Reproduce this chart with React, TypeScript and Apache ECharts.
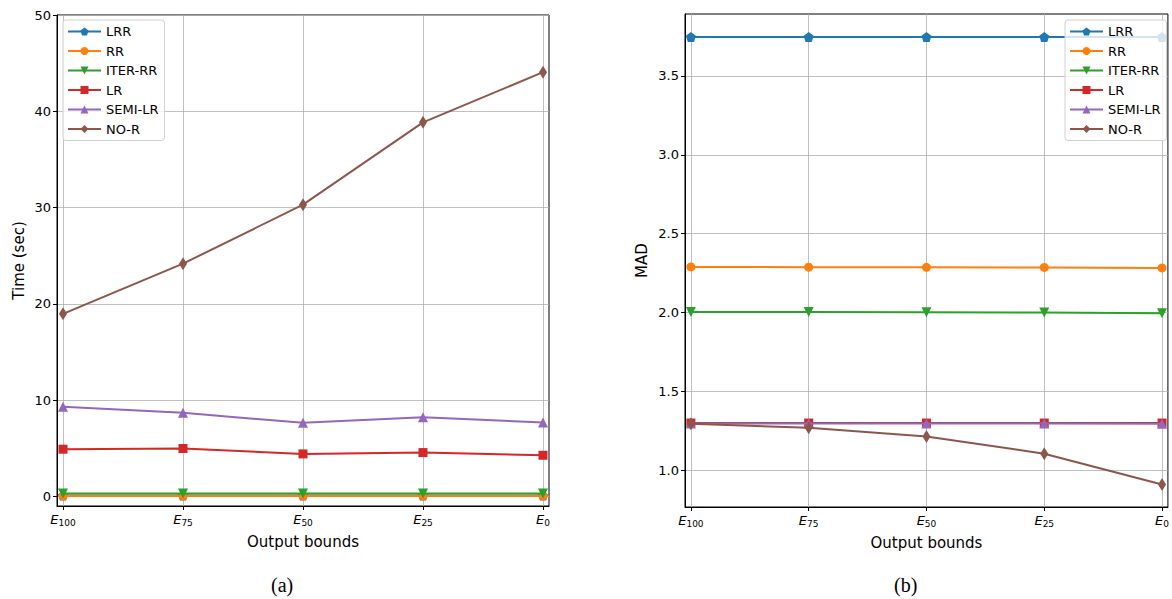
import React, { useEffect, useRef } from "react";
import * as echarts from "echarts";

const subscripts = ["100", "75", "50", "25", "0"];
const xTickValues = [0, 1, 2, 3, 4];
const timeTicks = [0, 10, 20, 30, 40, 50];
const madTicks = [1.0, 1.5, 2.0, 2.5, 3.0, 3.5];
const seriesNames = ["LRR", "RR", "ITER-RR", "LR", "SEMI-LR", "NO-R"];
const colors = ["#1f77b4", "#ff7f0e", "#2ca02c", "#d62728", "#9467bd", "#8c564b"];

const timeLRR = [0.08, 0.08, 0.08, 0.08, 0.08];
const timeRR = [0.05, 0.05, 0.05, 0.05, 0.05];
const timeITER = [0.3, 0.3, 0.3, 0.3, 0.3];
const timeLR = [4.9, 4.97, 4.41, 4.55, 4.27];
const timeSEMI = [9.3, 8.68, 7.64, 8.23, 7.67];
const timeNOR = [18.96, 24.17, 30.3, 38.85, 44.06];

const madLRR = [3.747, 3.747, 3.747, 3.747, 3.747];
const madRR = [2.289, 2.288, 2.287, 2.286, 2.283];
const madITER = [2.004, 2.003, 2.002, 2.0, 1.995];
const madLR = [1.3, 1.3, 1.3, 1.3, 1.3];
const madSEMI = [1.297, 1.297, 1.297, 1.297, 1.296];
const madNOR = [1.296, 1.27, 1.215, 1.106, 0.911];

const pentagon =
  "path://M0,-1 L0.951,-0.309 L0.588,0.809 L-0.588,0.809 L-0.951,-0.309 Z";
const symbols: any[] = [
  { symbol: pentagon, symbolSize: 10, symbolRotate: 0 },
  { symbol: "circle", symbolSize: 9, symbolRotate: 0 },
  { symbol: "triangle", symbolSize: 10, symbolRotate: 180 },
  { symbol: "rect", symbolSize: 9, symbolRotate: 0 },
  { symbol: "triangle", symbolSize: 10, symbolRotate: 0 },
  { symbol: "diamond", symbolSize: [8, 13], symbolRotate: 0 },
];

const FONT = "DejaVu Sans";

function xAxisCfg(gridIndex: number) {
  return {
    type: "value",
    gridIndex,
    min: -0.05,
    max: 4.05,
    name: "Output bounds",
    nameLocation: "middle",
    nameGap: 28,
    nameTextStyle: { fontFamily: FONT, fontSize: 15, color: "#000" },
    axisLine: { show: true, onZero: false, lineStyle: { color: "#000", width: 1 } },
    axisTick: { show: true, length: 4, lineStyle: { color: "#000" }, customValues: xTickValues },
    axisLabel: {
      margin: 5,
      color: "#000",
      fontFamily: FONT,
      customValues: xTickValues,
      formatter: (v: number) => {
        const i = Math.round(v);
        return "{e|E}{s|" + subscripts[i] + "}";
      },
      rich: {
        e: { fontFamily: FONT, fontStyle: "italic", fontSize: 13, color: "#000", lineHeight: 16 },
        s: { fontFamily: FONT, fontSize: 9, color: "#000", padding: [8, 0, 0, 0], lineHeight: 16 },
      },
    },
    splitLine: { show: true, lineStyle: { color: "#b0b0b0", width: 0.8 } },
  };
}

function yAxisCfg(gridIndex: number, name: string, min: number, max: number, ticks: number[], dec: number, nameGap: number) {
  return {
    type: "value",
    gridIndex,
    min,
    max,
    name,
    nameLocation: "middle",
    nameGap,
    nameTextStyle: { fontFamily: FONT, fontSize: 15, color: "#000" },
    axisLine: { show: true, onZero: false, lineStyle: { color: "#000", width: 1 } },
    axisTick: { show: true, length: 4, lineStyle: { color: "#000" }, customValues: ticks },
    axisLabel: {
      margin: 6,
      color: "#000",
      fontFamily: FONT,
      fontSize: 13,
      customValues: ticks,
      formatter: (v: number) => v.toFixed(dec),
    },
    splitLine: { show: true, lineStyle: { color: "#b0b0b0", width: 0.8 } },
  };
}

function makeSeries(values: number[][], axisIndex: number) {
  return values.map((vals, si) => ({
    name: seriesNames[si],
    type: "line",
    xAxisIndex: axisIndex,
    yAxisIndex: axisIndex,
    data: vals.map((v, i) => [xTickValues[i], v]),
    color: colors[si],
    lineStyle: { width: 2, color: colors[si] },
    itemStyle: { color: colors[si] },
    symbol: symbols[si].symbol,
    symbolSize: symbols[si].symbolSize,
    symbolRotate: symbols[si].symbolRotate,
    showAllSymbol: true,
    z: 2 + si,
  }));
}

function legendCfg(left: number, top: number) {
  return {
    orient: "vertical",
    left,
    top,
    itemWidth: 33,
    itemHeight: 10,
    itemGap: 6.5,
    padding: [5, 6, 5, 4],
    backgroundColor: "rgba(255,255,255,0.8)",
    borderColor: "#d0d0d0",
    borderWidth: 1,
    borderRadius: 3,
    textStyle: { fontFamily: FONT, fontSize: 13, color: "#000" },
    data: seriesNames,
    z: 10,
  };
}

export default function App() {
  const ref = useRef<HTMLDivElement>(null);
  useEffect(() => {
    if (!ref.current) return;
    const chart = echarts.init(ref.current, undefined, { renderer: "svg" });
    chart.setOption({
      animation: false,
      backgroundColor: "#fff",
      grid: [
        { left: 57, top: 15, width: 492, height: 491, show: true, borderColor: "#000", borderWidth: 1, backgroundColor: "transparent" },
        { left: 685, top: 14, width: 489, height: 493, show: true, borderColor: "#000", borderWidth: 1, backgroundColor: "transparent" },
      ],
      xAxis: [xAxisCfg(0), xAxisCfg(1)],
      yAxis: [
        yAxisCfg(0, "Time (sec)", -1, 50, timeTicks, 0, 31),
        yAxisCfg(1, "MAD", 0.768, 3.892, madTicks, 1, 36),
      ],
      legend: [legendCfg(63, 20), legendCfg(1065, 20)],
      series: [
        ...makeSeries([timeLRR, timeRR, timeITER, timeLR, timeSEMI, timeNOR], 0),
        ...makeSeries([madLRR, madRR, madITER, madLR, madSEMI, madNOR], 1),
      ],
      graphic: [
        { type: "text", left: 271, top: 575, style: { text: "(a)", fontFamily: "Liberation Serif", fontSize: 20, fill: "#000" } },
        { type: "text", left: 894, top: 575, style: { text: "(b)", fontFamily: "Liberation Serif", fontSize: 20, fill: "#000" } },
      ],
    });
    return () => chart.dispose();
  }, []);
  return (
    <div
      ref={ref}
      style={{ position: "fixed", left: 0, top: 0, width: 1172, height: 599 }}
    />
  );
}
